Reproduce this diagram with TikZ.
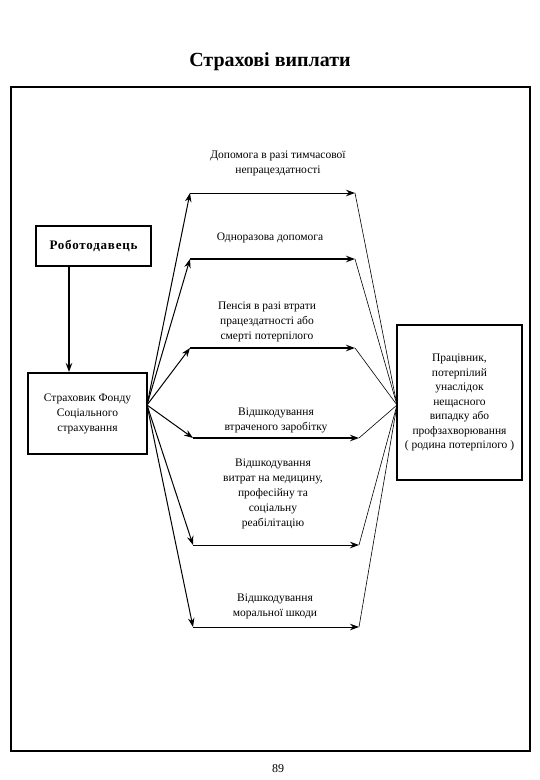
\documentclass[tikz,border=0pt]{standalone}
\usepackage{fontspec}
\setmainfont{Liberation Serif}
\usetikzlibrary{arrows.meta}
\begin{document}
\begin{tikzpicture}[x=1pt,y=-1pt,
  box/.style={draw,line width=2pt,inner sep=0pt,align=center},
  lbl/.style={align=center,font=\fontsize{11.5}{15}\selectfont},
  tipped/.style={-{Stealth[length=9pt,width=6.5pt]}},
  fan/.style={tipped,line width=1pt},
  hthin/.style={tipped,line width=0.9pt},
  hthick/.style={tipped,line width=1.8pt},
  joinline/.style={line width=0.6pt}
]
\useasboundingbox (0,0) rectangle (540,780);
\fill[white] (0,0) rectangle (540,780);

% title and frame
\node[font=\bfseries\fontsize{20}{22}\selectfont] (title) at (270,62) {Страхові виплати};
\draw[line width=2.6pt] (11,87) rectangle (530,751);
\node[font=\fontsize{12}{14}\selectfont] (page) at (278,769) {89};

% boxes
\node[box,minimum width=115pt,minimum height=40pt,font=\bfseries\fontsize{13}{15}\selectfont\addfontfeature{LetterSpace=6}] (rob) at (93.5,246) {Роботодавець};
\node[box,minimum width=119pt,minimum height=81pt,font=\fontsize{11.5}{15}\selectfont] (sf) at (87.5,413.5) {Страховик Фонду\\Соціального\\страхування};
\node[box,minimum width=125pt,minimum height=155pt,font=\fontsize{11.5}{14.5}\selectfont] (rb) at (459.5,402.5) {Працівник,\\потерпілий\\унаслідок\\нещасного\\випадку або\\профзахворювання\\( родина потерпілого )};

% arrow employer -> fund
\draw[line width=1.4pt,tipped] ([xshift=-24.5pt]rob.south) -- ([xshift=-24.5pt]rob.south |- sf.north);

% coordinates
\coordinate (fo) at (147,405);
\coordinate (L1) at (190,193); \coordinate (R1) at (355,193);
\coordinate (L2) at (190,259); \coordinate (R2) at (355,259);
\coordinate (L3) at (190,348); \coordinate (R3) at (355,348);
\coordinate (L4) at (193,438); \coordinate (R4) at (359,438);
\coordinate (L5) at (193,545); \coordinate (R5) at (359,545);
\coordinate (L6) at (193,627); \coordinate (R6) at (359,627);
\coordinate (fi) at (397,405);

% fan lines
\foreach \i in {1,...,6} {\draw[fan] (fo) -- (L\i);}
% horizontal arrows
\draw[hthin] (L1) -- (R1);
\draw[hthick] (L2) -- (R2);
\draw[hthick] (L3) -- (R3);
\draw[hthick] (L4) -- (R4);
\draw[hthin] (L5) -- (R5);
\draw[hthin] (L6) -- (R6);
% joining lines
\foreach \i in {1,...,6} {\draw[joinline] (R\i) -- (fi);}

% labels
\node[lbl] (t1) at (278,163.5) {Допомога в разі тимчасової\\непрацездатності};
\node[lbl] (t2) at (270,238) {Одноразова допомога};
\node[lbl] (t3) at (267,321.5) {Пенсія в разі втрати\\працездатності або\\смерті потерпілого};
\node[lbl] (t4) at (276,420.5) {Відшкодування\\втраченого заробітку};
\node[lbl] (t5) at (273,494) {Відшкодування\\витрат на медицину,\\професійну та\\соціальну\\реабілітацію};
\node[lbl] (t6) at (275,606) {Відшкодування\\моральної шкоди};
\end{tikzpicture}
\end{document}
